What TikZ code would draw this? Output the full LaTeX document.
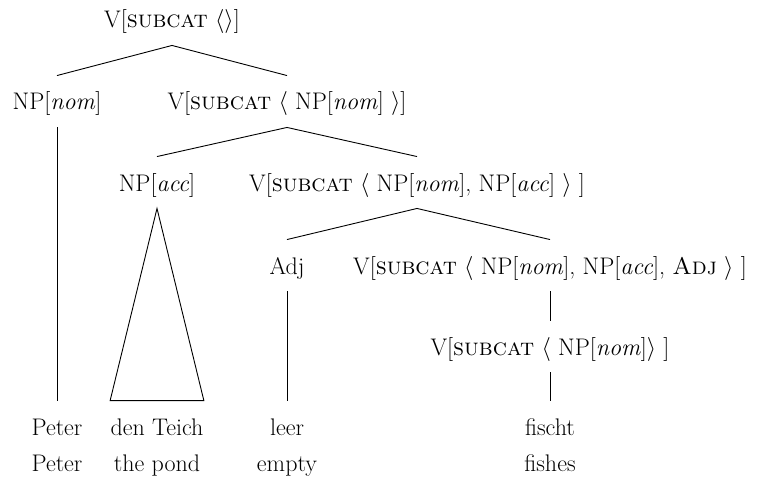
\documentclass[tikz,border=0pt]{standalone}
\usepackage{fix-cm}
\usepackage{tikz}

\begin{document}
\begin{tikzpicture}[x=1pt,y=-1pt,line width=0.9pt,
    cat/.style={font=\fontsize{24}{28}\selectfont,anchor=base,inner xsep=0pt,inner ysep=6pt,text height=28pt,text depth=11pt},
    gloss/.style={font=\fontsize{24}{28}\selectfont,anchor=base,inner sep=0pt}]
  \useasboundingbox (0,0) rectangle (759,481);
  % categories
  \node[cat] (vroot) at(172,28){V[\textsc{subcat} $\langle\rangle$]};
  \node[cat] (npnom) at(57,110){NP[\textit{nom}]};
  \node[cat] (vnom) at(287,110){V[\textsc{subcat} $\langle$ NP[\textit{nom}] $\rangle$]};
  \node[cat] (npacc) at(157,191){NP[\textit{acc}]};
  \node[cat] (vnomacc) at(417,191){V[\textsc{subcat} $\langle$ NP[\textit{nom}], NP[\textit{acc}] $\rangle$ ]};
  \node[cat] (adj) at(287,274){Adj};
  \node[cat] (vadj) at(550,274){V[\textsc{subcat} $\langle$ NP[\textit{nom}], NP[\textit{acc}], \textsc{Adj} $\rangle$ ]};
  \node[cat] (vlex) at(550,355){V[\textsc{subcat} $\langle$ NP[\textit{nom}]$\rangle$ ]};
  % words and glosses
  \node[cat] (peter) at(57,435){Peter};
  \node[cat] (teich) at(157,435){den Teich};
  \node[cat] (leer) at(287,435){leer};
  \node[cat] (fischt) at(550,435){fischt};
  \node[gloss] (gpeter) at(57,471){Peter};
  \node[gloss] (gteich) at(157,471){the pond};
  \node[gloss] (gleer) at(287,471){empty};
  \node[gloss] (gfischt) at(550,471){fishes};
  % branches
  \draw (npnom.north) -- (vroot.south) -- (vnom.north);
  \draw (npacc.north) -- (vnom.south) -- (vnomacc.north);
  \draw (adj.north) -- (vnomacc.south) -- (vadj.north);
  \draw (vadj.south) -- (vlex.north);
  \draw (npnom.south) -- (peter.north);
  \draw (adj.south) -- (leer.north);
  \draw (vlex.south) -- (fischt.north);
  \draw (npacc.south) -- (teich.north east) -- (teich.north west) -- cycle;
\end{tikzpicture}
\end{document}
